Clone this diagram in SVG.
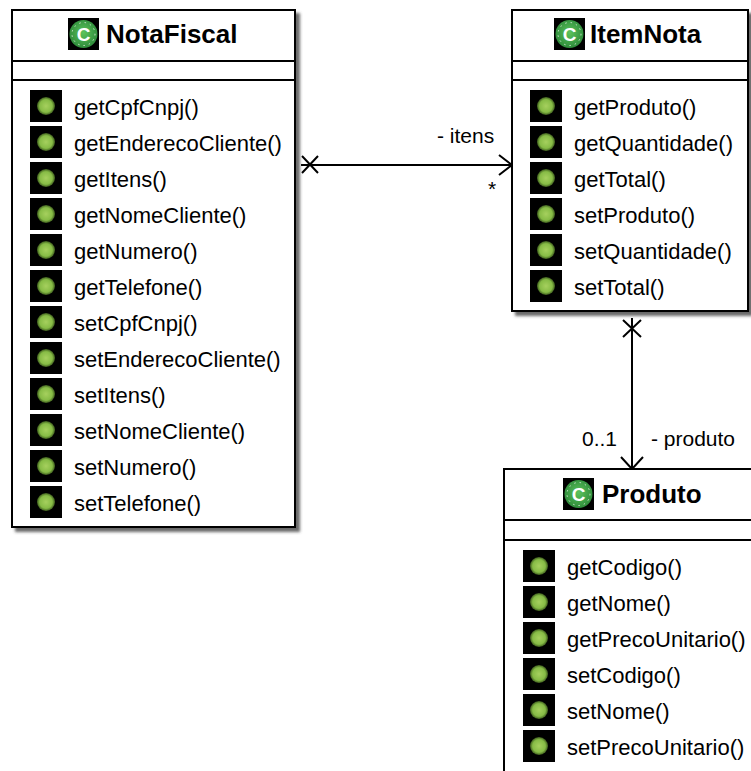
<svg xmlns="http://www.w3.org/2000/svg" width="751" height="771" viewBox="0 0 751 771">
<style>
.box{fill:#fff;stroke:#000;stroke-width:2;filter:url(#sh)}
.sep{stroke:#000;stroke-width:2}
.title{font-family:"Liberation Sans",Arial,sans-serif;font-weight:bold;font-size:26px;fill:#000}
.m{font-family:"Liberation Sans",Arial,sans-serif;font-size:22px;fill:#000}
.lbl{font-family:"Liberation Sans",Arial,sans-serif;font-size:21px;fill:#000}
.conn{stroke:#000;stroke-width:2;fill:none}
</style>
<defs>
<filter id="sh" x="-10%" y="-10%" width="130%" height="130%">
<feDropShadow dx="4" dy="4" stdDeviation="1.5" flood-color="#444" flood-opacity="0.8"/>
</filter>
<radialGradient id="mg" cx="50%" cy="50%" r="50%">
<stop offset="0" stop-color="#a6d05e"/>
<stop offset="0.7" stop-color="#86bb45"/>
<stop offset="1" stop-color="#3c5a1c"/>
</radialGradient>
<radialGradient id="cg" cx="50%" cy="45%" r="55%">
<stop offset="0" stop-color="#5cc35c"/>
<stop offset="1" stop-color="#2e8b3a"/>
</radialGradient>
<g id="mi">
<rect x="0" y="0" width="32" height="32" fill="#000"/>
<circle cx="16" cy="16" r="9" fill="url(#mg)"/>
</g>
<g id="ci">
<rect x="0" y="0" width="31" height="32" fill="#000"/>
<circle cx="15.5" cy="16" r="14" fill="url(#cg)"/>
<circle cx="15.5" cy="16" r="11.5" fill="none" stroke="#cfe8cf" stroke-width="1" stroke-dasharray="1.5 4"/>
<text x="15.5" y="23" text-anchor="middle" font-family="Liberation Sans,Arial,sans-serif" font-weight="bold" font-size="19" fill="#fff">C</text>
</g>
</defs>

<g id="connectors">
<line class="conn" x1="301" y1="165" x2="511" y2="165"/>
<path class="conn" d="M302 156 L318 173 M302 173 L318 156"/>
<path class="conn" d="M499 155 L512 165 L499 175"/>
<text class="lbl" x="437" y="143">- itens</text>
<text class="lbl" x="488" y="196">*</text>
<line class="conn" x1="632" y1="318" x2="632" y2="468"/>
<path class="conn" d="M623 320 L641 337 M623 337 L641 320"/>
<path class="conn" d="M621 457 L632 469 L643 457"/>
<text class="lbl" x="582" y="446">0..1</text>
<text class="lbl" x="651" y="446">- produto</text>
</g>

<g id="NotaFiscal">
<rect class="box" x="12" y="10" width="283" height="517"/>
<line class="sep" x1="12" y1="61" x2="295" y2="61"/>
<line class="sep" x1="12" y1="80" x2="295" y2="80"/>
<use href="#ci" x="68" y="18"/>
<text class="title" x="106" y="43">NotaFiscal</text>
<use href="#mi" x="30" y="90"/><text class="m" x="74" y="115">getCpfCnpj()</text>
<use href="#mi" x="30" y="126"/><text class="m" x="74" y="151">getEnderecoCliente()</text>
<use href="#mi" x="30" y="162"/><text class="m" x="74" y="187">getItens()</text>
<use href="#mi" x="30" y="198"/><text class="m" x="74" y="223">getNomeCliente()</text>
<use href="#mi" x="30" y="234"/><text class="m" x="74" y="259">getNumero()</text>
<use href="#mi" x="30" y="270"/><text class="m" x="74" y="295">getTelefone()</text>
<use href="#mi" x="30" y="306"/><text class="m" x="74" y="331">setCpfCnpj()</text>
<use href="#mi" x="30" y="342"/><text class="m" x="74" y="367">setEnderecoCliente()</text>
<use href="#mi" x="30" y="378"/><text class="m" x="74" y="403">setItens()</text>
<use href="#mi" x="30" y="414"/><text class="m" x="74" y="439">setNomeCliente()</text>
<use href="#mi" x="30" y="450"/><text class="m" x="74" y="475">setNumero()</text>
<use href="#mi" x="30" y="486"/><text class="m" x="74" y="511">setTelefone()</text>
</g>

<g id="ItemNota">
<rect class="box" x="512" y="10" width="236" height="301"/>
<line class="sep" x1="512" y1="61" x2="748" y2="61"/>
<line class="sep" x1="512" y1="80" x2="748" y2="80"/>
<use href="#ci" x="554" y="18"/>
<text class="title" x="590" y="43">ItemNota</text>
<use href="#mi" x="530" y="90"/><text class="m" x="574" y="115">getProduto()</text>
<use href="#mi" x="530" y="126"/><text class="m" x="574" y="151">getQuantidade()</text>
<use href="#mi" x="530" y="162"/><text class="m" x="574" y="187">getTotal()</text>
<use href="#mi" x="530" y="198"/><text class="m" x="574" y="223">setProduto()</text>
<use href="#mi" x="530" y="234"/><text class="m" x="574" y="259">setQuantidade()</text>
<use href="#mi" x="530" y="270"/><text class="m" x="574" y="295">setTotal()</text>
</g>

<g id="Produto">
<rect class="box" x="504" y="469" width="253" height="310"/>
<line class="sep" x1="504" y1="520" x2="757" y2="520"/>
<line class="sep" x1="504" y1="540" x2="757" y2="540"/>
<use href="#ci" x="563" y="478"/>
<text class="title" x="602" y="503">Produto</text>
<use href="#mi" x="523" y="550"/><text class="m" x="567" y="575">getCodigo()</text>
<use href="#mi" x="523" y="586"/><text class="m" x="567" y="611">getNome()</text>
<use href="#mi" x="523" y="622"/><text class="m" x="567" y="647">getPrecoUnitario()</text>
<use href="#mi" x="523" y="658"/><text class="m" x="567" y="683">setCodigo()</text>
<use href="#mi" x="523" y="694"/><text class="m" x="567" y="719">setNome()</text>
<use href="#mi" x="523" y="730"/><text class="m" x="567" y="755">setPrecoUnitario()</text>
</g>
</svg>
